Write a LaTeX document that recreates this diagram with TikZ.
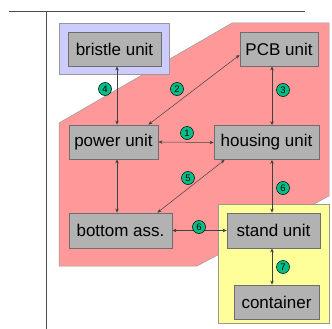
\documentclass[tikz,border=0pt]{standalone}
\usepackage{fontspec}
\setmainfont{Liberation Sans}
\usetikzlibrary{arrows.meta,calc}
\definecolor{regred}{RGB}{255,153,153}
\definecolor{regblue}{RGB}{204,204,255}
\definecolor{regyellow}{RGB}{255,255,153}
\definecolor{unitgray}{RGB}{178,178,178}
\definecolor{edgegray}{RGB}{110,110,110}
\definecolor{tagteal}{RGB}{0,190,135}
\tikzset{
  unitbox/.style={draw=edgegray, fill=unitgray, line width=0.8pt, inner sep=0pt,
    minimum height=34pt, font=\fontsize{17}{19}\selectfont},
  region/.style={draw=edgegray!70, line width=0.5pt},
  link/.style={draw=black!75, line width=0.5pt,
    {Stealth[length=4pt,width=3.5pt]}-{Stealth[length=4pt,width=3.5pt]}},
  tag/.style={circle, draw=black, fill=tagteal, line width=0.5pt, inner sep=0pt,
    minimum size=13pt, font=\fontsize{9.5}{9.5}\selectfont},
}
\begin{document}
\begin{tikzpicture}[x=1pt, y=-1pt]
\useasboundingbox (0,0) rectangle (332,329);

% frame lines
\draw[black!70, line width=0.8pt] (9,11) -- (305,11);
\draw[black!70, line width=0.8pt] (46,11) -- (46,329);

% grouping regions
\filldraw[region, fill=regred] (59,123) -- (232,23) -- (329,23) -- (329,196)
  -- (197,266) -- (59,266) -- cycle;
\filldraw[region, fill=regblue] (59,23) rectangle (169,74);
\filldraw[region, fill=regyellow] (218,204) rectangle (329,323);

% units
\node[unitbox, minimum width=93pt] (bristle) at (114.5,49) {bristle unit};
\node[unitbox, minimum width=78pt] (pcb) at (279,49) {PCB unit};
\node[unitbox, minimum width=89pt] (power) at (113.5,142) {power unit};
\node[unitbox, minimum width=105pt] (housing) at (266.5,142.5) {housing unit};
\node[unitbox, minimum width=103pt, minimum height=35pt] (bottom) at (120.5,230.5) {bottom ass.};
\node[unitbox, minimum width=93pt, minimum height=35pt] (stand) at (273.5,230.5) {stand unit};
\node[unitbox, minimum width=85pt] (container) at (276.5,302) {container};

% vertical guide positions
\coordinate (colL) at (117,0);
\coordinate (colR) at (272,0);

% connections
\draw[link] (colL |- bristle.south) -- (colL |- power.north);
\draw[link] ($(power.north east)+(-10,0)$) -- ($(pcb.west)+(0,6)$);
\draw[link] (colR |- pcb.south) -- (colR |- housing.north);
\draw[link] (power.east) -- (housing.west);
\draw[link] (colL |- power.south) -- (colL |- bottom.north);
\draw[link] ($(housing.south west)+(11,0)$) -- ($(bottom.north east)+(-15,0)$);
\draw[link] (colR |- housing.south) -- (colR |- stand.north);
\draw[link] (bottom.east) -- (stand.west);
\draw[link] (colR |- stand.south) -- (colR |- container.north);

% relation numbers
\node[tag] (t4) at (105,89) {4};
\node[tag] (t2) at (177,89) {2};
\node[tag] (t3) at (283,90) {3};
\node[tag] (t1) at (187,133) {1};
\node[tag] (t5) at (188,178) {5};
\node[tag] (t6a) at (283,188) {6};
\node[tag] (t6b) at (199,227) {6};
\node[tag] (t7) at (283,267) {7};
\end{tikzpicture}
\end{document}
